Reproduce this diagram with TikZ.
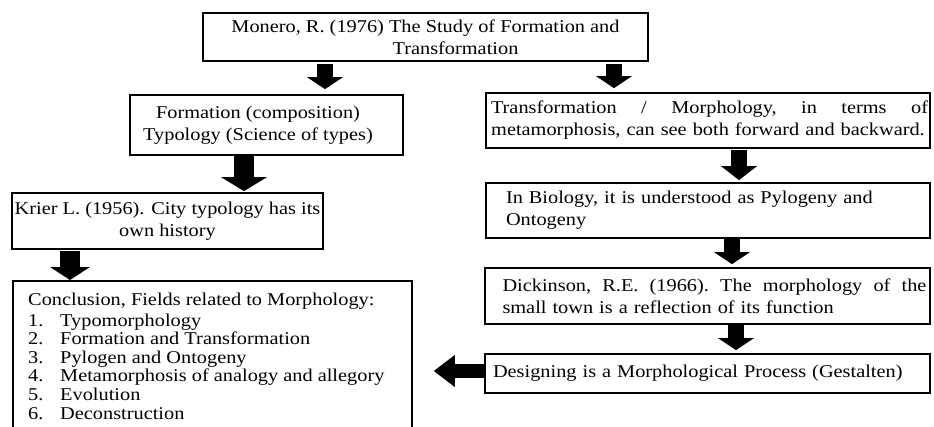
\documentclass[tikz,border=0pt]{standalone}
\usepackage{fontspec}
\setmainfont{Liberation Serif}[FakeStretch=1.13]
\usetikzlibrary{arrows.meta}
\begin{document}
\begin{tikzpicture}[x=1pt,y=-1pt,
  box/.style={draw=black,line width=1.8pt,inner sep=0pt,font=\fontsize{18}{22}\selectfont},
  blk/.style n args={3}{line width=#1,-{Triangle[width=#2,length=#3,line width=0pt]}}]
\useasboundingbox (0,0) rectangle (934,426);
\clip (0,0) rectangle (934,426);
% boxes
\node[box,minimum width=445pt,minimum height=48pt,align=center] (top) at (425.5,37)
  {Monero, R. (1976) The Study of Formation and\\\hspace*{60pt}Transformation};
\node[box,minimum width=273pt,minimum height=60pt,align=center] (form) at (266.5,125)
  {Formation (composition)\hspace*{17pt}\\Typology (Science of types)\hspace*{17pt}};
\node[box,minimum width=311pt,minimum height=56pt,align=center] (krier) at (167.5,221)
  {Krier L. (1956). City typology has its\\own history};
\node[box,minimum width=399pt,minimum height=152pt,anchor=north west] (concl) at (12,280) {};
\node[anchor=base west,inner sep=0pt,align=left,font=\fontsize{18}{18.6}\selectfont] (concltxt) at (28,419)
  {Conclusion, Fields related to Morphology:\\[2.4pt]
   \makebox[32pt][l]{1.}Typomorphology\\
   \makebox[32pt][l]{2.}Formation and Transformation\\
   \makebox[32pt][l]{3.}Pylogen and Ontogeny\\
   \makebox[32pt][l]{4.}Metamorphosis of analogy and allegory\\
   \makebox[32pt][l]{5.}Evolution\\
   \makebox[32pt][l]{6.}Deconstruction};
\node[box,minimum width=444pt,minimum height=55pt,text width=440pt,align=center] (trans) at (708,120.5)
  {\hspace*{3pt}Transformation\hfill/\hfill Morphology,\hfill in\hfill terms\hfill of\hspace*{3pt}\\\mbox{metamorphosis, can see both forward and backward.}};
\node[box,minimum width=444pt,minimum height=55pt,text width=404pt,align=left] (bio) at (708,210.5)
  {In Biology, it is understood as Pylogeny and\\Ontogeny};
\node[box,minimum width=445pt,minimum height=56pt,text width=438pt,align=left] (dick) at (707.5,296)
  {\hspace*{14pt}Dickinson,\hfill R.E.\hfill (1966).\hfill The\hfill morphology\hfill of\hfill the\\\hspace*{14pt}small town is a reflection of its function};
\node[box,minimum width=445pt,minimum height=39pt,text width=437pt,align=left] (design) at (707.5,373.5)
  {\hspace*{4pt}Designing is a Morphological Process (Gestalten)};
% arrow axes
\coordinate (a1x) at (325,0);
\coordinate (a2x) at (614,0);
\coordinate (a3x) at (244,0);
\coordinate (a4x) at (70,0);
\coordinate (a5x) at (739,0);
\coordinate (a6x) at (732,0);
\coordinate (a7x) at (736,0);
% arrows
\draw[blk={16pt}{36pt}{12pt},shorten <=2pt,shorten >=5pt] (top.south -| a1x) -- (form.north -| a1x);
\draw[blk={16pt}{36pt}{12pt},shorten <=2pt,shorten >=4pt] (top.south -| a2x) -- (trans.north -| a2x);
\draw[blk={20pt}{46pt}{14pt},shorten >=1pt] (form.south -| a3x) -- (krier.north -| a3x);
\draw[blk={20pt}{40pt}{13pt},shorten <=1pt] (krier.south -| a4x) -- (concl.north -| a4x);
\draw[blk={16pt}{36pt}{14pt},shorten <=1pt,shorten >=2pt] (trans.south -| a5x) -- (bio.north -| a5x);
\draw[blk={16pt}{36pt}{12pt},shorten >=3pt] (bio.south -| a6x) -- (dick.north -| a6x);
\draw[blk={16pt}{36pt}{12pt},shorten >=3pt] (dick.south -| a7x) -- (design.north -| a7x);
\draw[blk={14pt}{32pt}{21pt},shorten >=21pt] ([yshift=2.5pt]design.west) -- ([yshift=2.5pt]concl.east |- design.west);
\end{tikzpicture}
\end{document}
